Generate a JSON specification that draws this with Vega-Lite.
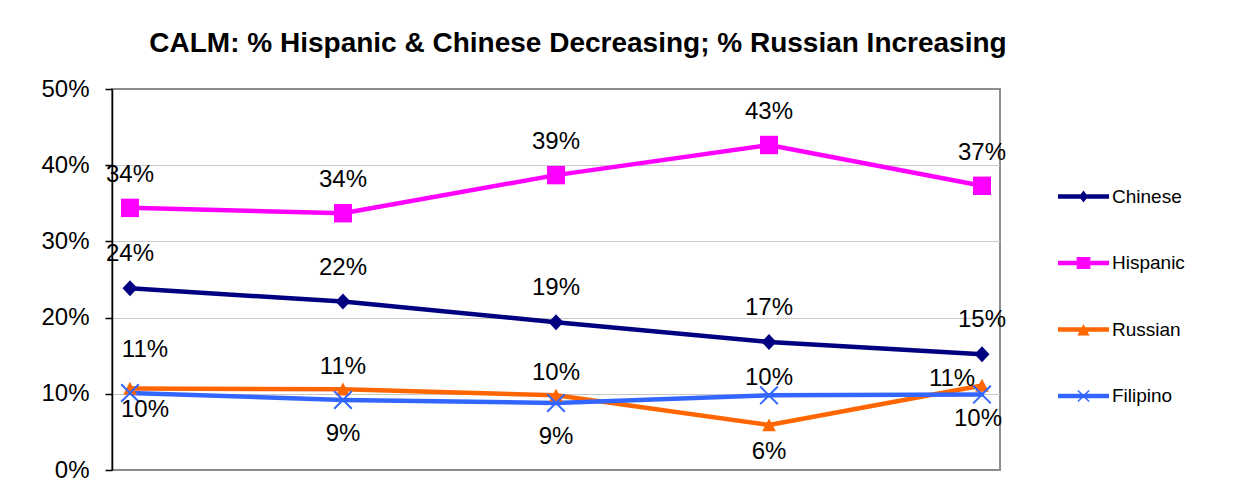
{
  "$schema": "https://vega.github.io/schema/vega-lite/v6.json",
  "width": 888,
  "height": 381,
  "autosize": {"type": "none"},
  "padding": {"left": 112, "top": 89, "right": 240, "bottom": 27},
  "background": "white",
  "title": {
    "text": "CALM: % Hispanic & Chinese Decreasing; % Russian Increasing",
    "font": "Liberation Sans",
    "fontSize": 28,
    "fontWeight": "bold",
    "color": "#000000",
    "anchor": "middle",
    "dx": 22,
    "offset": 19
  },
  "config": {
    "font": "Liberation Sans",
    "view": {"stroke": "#8c8c8c", "strokeWidth": 2}
  },
  "data": {
    "values": [
      {"series": "Chinese", "period": "1", "value": 0.2385},
      {"series": "Chinese", "period": "2", "value": 0.221},
      {"series": "Chinese", "period": "3", "value": 0.194},
      {"series": "Chinese", "period": "4", "value": 0.168},
      {"series": "Chinese", "period": "5", "value": 0.152},
      {"series": "Hispanic", "period": "1", "value": 0.344},
      {"series": "Hispanic", "period": "2", "value": 0.337},
      {"series": "Hispanic", "period": "3", "value": 0.387},
      {"series": "Hispanic", "period": "4", "value": 0.4265},
      {"series": "Hispanic", "period": "5", "value": 0.373},
      {"series": "Russian", "period": "1", "value": 0.107},
      {"series": "Russian", "period": "2", "value": 0.106},
      {"series": "Russian", "period": "3", "value": 0.098},
      {"series": "Russian", "period": "4", "value": 0.059},
      {"series": "Russian", "period": "5", "value": 0.111},
      {"series": "Filipino", "period": "1", "value": 0.101},
      {"series": "Filipino", "period": "2", "value": 0.092},
      {"series": "Filipino", "period": "3", "value": 0.088},
      {"series": "Filipino", "period": "4", "value": 0.098},
      {"series": "Filipino", "period": "5", "value": 0.099}
    ]
  },
  "encoding": {
    "x": {
      "field": "period",
      "type": "ordinal",
      "sort": null,
      "scale": {"type": "point", "padding": 0.0845},
      "axis": null
    },
    "y": {
      "field": "value",
      "type": "quantitative",
      "scale": {"domain": [0, 0.5], "nice": false, "zero": true},
      "axis": {
        "values": [0, 0.1, 0.2, 0.3, 0.4, 0.5],
        "format": ".0%",
        "title": null,
        "labelFont": "Liberation Sans",
        "labelFontSize": 24,
        "labelColor": "#000000",
        "labelPadding": 16,
        "labelFlush": false,
        "labelBaseline": "middle",
        "tickSize": 7,
        "tickColor": "#000000",
        "tickWidth": 1.5,
        "domainColor": "#000000",
        "domainWidth": 1.5,
        "grid": true,
        "gridColor": "#c8c8c8",
        "gridWidth": 1,
        "gridOpacity": {"condition": {"test": "datum.value === 0 || datum.value === 0.5", "value": 0}, "value": 1}
      }
    },
    "color": {
      "field": "series",
      "type": "nominal",
      "sort": null,
      "scale": {
        "domain": ["Chinese", "Hispanic", "Russian", "Filipino"],
        "range": ["#000080", "#FF00FF", "#FF6600", "#3366FF"]
      },
      "legend": {
        "title": null,
        "orient": "none",
        "legendX": 946,
        "legendY": 82,
        "padding": 0,
        "symbolSize": 2601,
        "symbolStrokeWidth": 0,
        "symbolOpacity": 1,
        "labelFont": "Liberation Sans",
        "labelFontSize": 19,
        "labelColor": "#000000",
        "labelOffset": 3,
        "rowPadding": 30.5,
        "encode": {
          "symbols": {
            "update": {
              "shape": {"signal": "datum.value === 'Chinese' ? 'M-1,-0.09H1V0.09H-1Z M0,-0.24L0.18,0L0,0.24L-0.18,0Z' : datum.value === 'Hispanic' ? 'M-1,-0.09H1V0.09H-1Z M-0.27,-0.24H0.27V0.24H-0.27Z' : datum.value === 'Russian' ? 'M-1,-0.09H1V0.09H-1Z M0,-0.22L0.24,0.24L-0.24,0.24Z' : 'M-1,-0.09H1V0.09H-1Z M-0.2,-0.24L0.24,0.2L0.2,0.24L-0.24,-0.2Z M0.2,-0.24L0.24,-0.2L-0.2,0.24L-0.24,0.2Z'"},
              "fill": {"scale": "color", "field": "value"},
              "strokeWidth": {"value": 0},
              "opacity": {"value": 1}
            }
          }
        }
      }
    }
  },
  "layer": [
    {
      "mark": {"type": "line", "strokeWidth": 4.5, "strokeJoin": "round", "strokeCap": "round"}
    },
    {
      "transform": [{"filter": "datum.series === 'Chinese'"}],
      "mark": {"type": "point", "filled": true, "size": 361, "strokeWidth": 0, "opacity": 1, "shape": "M0,-0.84L0.79,0L0,0.84L-0.79,0Z"}
    },
    {
      "transform": [{"filter": "datum.series === 'Hispanic'"}],
      "mark": {"type": "point", "filled": true, "size": 361, "strokeWidth": 0, "opacity": 1, "shape": "M-0.95,-0.97H0.95V0.97H-0.95Z"}
    },
    {
      "transform": [{"filter": "datum.series === 'Russian'"}],
      "mark": {"type": "point", "filled": true, "size": 361, "strokeWidth": 0, "opacity": 1, "shape": "M0,-0.7L0.72,0.66L-0.72,0.66Z"}
    },
    {
      "transform": [{"filter": "datum.series === 'Filipino'"}],
      "mark": {"type": "point", "filled": true, "size": 361, "strokeWidth": 0, "opacity": 1, "shape": "M-0.85,-1L1,0.85L0.85,1L-1,-0.85Z M0.85,-1L1,-0.85L-0.85,1L-1,0.85Z"}
    },
    {
      "transform": [{"filter": "datum.series === 'Hispanic'"}],
      "mark": {"type": "text", "fontSize": 24, "font": "Liberation Sans", "baseline": "middle", "align": "center", "dy": -33},
      "encoding": {"text": {"field": "value", "format": ".0%"}, "color": {"value": "#000000"}}
    },
    {
      "transform": [{"filter": "datum.series === 'Chinese'"}],
      "mark": {"type": "text", "fontSize": 24, "font": "Liberation Sans", "baseline": "middle", "align": "center", "dy": -34},
      "encoding": {"text": {"field": "value", "format": ".0%"}, "color": {"value": "#000000"}}
    },
    {
      "transform": [{"filter": "datum.series === 'Russian' && datum.period === '1'"}],
      "mark": {"type": "text", "fontSize": 24, "font": "Liberation Sans", "baseline": "middle", "align": "center", "dx": 15, "dy": -38},
      "encoding": {"text": {"field": "value", "format": ".0%"}, "color": {"value": "#000000"}}
    },
    {
      "transform": [{"filter": "datum.series === 'Russian' && (datum.period === '2' || datum.period === '3')"}],
      "mark": {"type": "text", "fontSize": 24, "font": "Liberation Sans", "baseline": "middle", "align": "center", "dy": -22},
      "encoding": {"text": {"field": "value", "format": ".0%"}, "color": {"value": "#000000"}}
    },
    {
      "transform": [{"filter": "datum.series === 'Filipino' && datum.period === '4'"}],
      "mark": {"type": "text", "fontSize": 24, "font": "Liberation Sans", "baseline": "middle", "align": "center", "dy": -17},
      "encoding": {"text": {"field": "value", "format": ".0%"}, "color": {"value": "#000000"}}
    },
    {
      "transform": [{"filter": "datum.series === 'Russian' && datum.period === '4'"}],
      "mark": {"type": "text", "fontSize": 24, "font": "Liberation Sans", "baseline": "middle", "align": "center", "dy": 27},
      "encoding": {"text": {"field": "value", "format": ".0%"}, "color": {"value": "#000000"}}
    },
    {
      "transform": [{"filter": "datum.series === 'Filipino' && (datum.period === '2' || datum.period === '3')"}],
      "mark": {"type": "text", "fontSize": 24, "font": "Liberation Sans", "baseline": "middle", "align": "center", "dy": 34},
      "encoding": {"text": {"field": "value", "format": ".0%"}, "color": {"value": "#000000"}}
    },
    {
      "transform": [{"filter": "datum.series === 'Filipino' && datum.period === '1'"}],
      "mark": {"type": "text", "fontSize": 24, "font": "Liberation Sans", "baseline": "middle", "align": "center", "dx": 15, "dy": 17},
      "encoding": {"text": {"field": "value", "format": ".0%"}, "color": {"value": "#000000"}}
    },
    {
      "transform": [{"filter": "datum.series === 'Filipino' && datum.period === '5'"}],
      "mark": {"type": "text", "fontSize": 24, "font": "Liberation Sans", "baseline": "middle", "align": "center", "dx": -4, "dy": 24},
      "encoding": {"text": {"field": "value", "format": ".0%"}, "color": {"value": "#000000"}}
    },
    {
      "transform": [{"filter": "datum.series === 'Russian' && datum.period === '5'"}],
      "mark": {"type": "text", "fontSize": 24, "font": "Liberation Sans", "baseline": "middle", "align": "center", "dx": -30, "dy": -6},
      "encoding": {"text": {"field": "value", "format": ".0%"}, "color": {"value": "#000000"}}
    }
  ]
}
